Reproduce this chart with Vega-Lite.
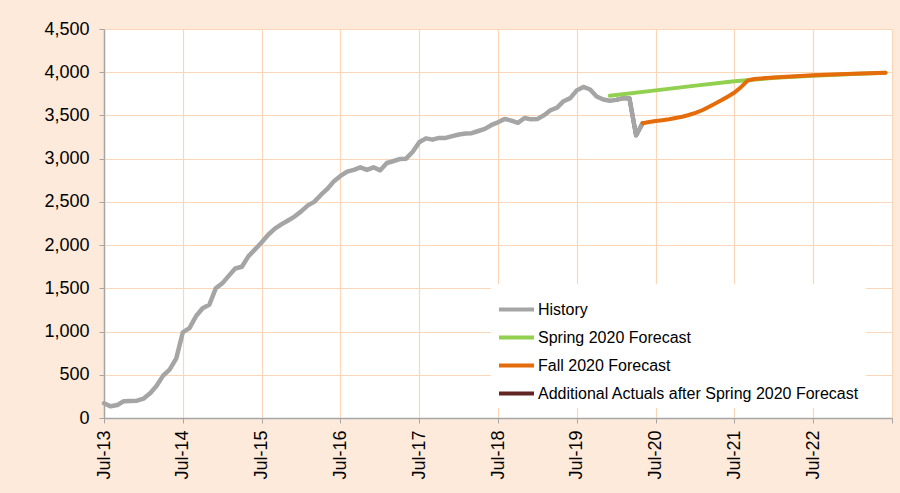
{
  "$schema": "https://vega.github.io/schema/vega-lite/v6.json",
  "width": 788,
  "height": 389,
  "autosize": {"type": "none"},
  "padding": {"left": 104, "top": 29, "right": 8, "bottom": 75},
  "background": "#FDEADA",
  "config": {
    "view": {"fill": "#FFFFFF", "stroke": null},
    "font": "Liberation Sans",
    "axis": {
      "gridColor": "#FBD7B8",
      "gridWidth": 1.2,
      "domainColor": "#A6A6A6",
      "domainWidth": 1.5,
      "tickColor": "#A6A6A6",
      "tickSize": 5,
      "labelColor": "#000000",
      "labelFont": "Liberation Sans",
      "title": null
    }
  },
  "data": {
    "values": [
      {"series": "History", "date": "2013-07-01", "value": 170},
      {"series": "History", "date": "2013-08-01", "value": 135},
      {"series": "History", "date": "2013-09-01", "value": 150},
      {"series": "History", "date": "2013-10-01", "value": 195},
      {"series": "History", "date": "2013-11-01", "value": 197},
      {"series": "History", "date": "2013-12-01", "value": 200},
      {"series": "History", "date": "2014-01-01", "value": 225},
      {"series": "History", "date": "2014-02-01", "value": 290},
      {"series": "History", "date": "2014-03-01", "value": 370},
      {"series": "History", "date": "2014-04-01", "value": 490},
      {"series": "History", "date": "2014-05-01", "value": 560},
      {"series": "History", "date": "2014-06-01", "value": 690},
      {"series": "History", "date": "2014-07-01", "value": 990},
      {"series": "History", "date": "2014-08-01", "value": 1040},
      {"series": "History", "date": "2014-09-01", "value": 1180},
      {"series": "History", "date": "2014-10-01", "value": 1270},
      {"series": "History", "date": "2014-11-01", "value": 1310},
      {"series": "History", "date": "2014-12-01", "value": 1500},
      {"series": "History", "date": "2015-01-01", "value": 1560},
      {"series": "History", "date": "2015-02-01", "value": 1650},
      {"series": "History", "date": "2015-03-01", "value": 1730},
      {"series": "History", "date": "2015-04-01", "value": 1750},
      {"series": "History", "date": "2015-05-01", "value": 1870},
      {"series": "History", "date": "2015-06-01", "value": 1950},
      {"series": "History", "date": "2015-07-01", "value": 2030},
      {"series": "History", "date": "2015-08-01", "value": 2120},
      {"series": "History", "date": "2015-09-01", "value": 2190},
      {"series": "History", "date": "2015-10-01", "value": 2240},
      {"series": "History", "date": "2015-11-01", "value": 2285},
      {"series": "History", "date": "2015-12-01", "value": 2330},
      {"series": "History", "date": "2016-01-01", "value": 2390},
      {"series": "History", "date": "2016-02-01", "value": 2460},
      {"series": "History", "date": "2016-03-01", "value": 2500},
      {"series": "History", "date": "2016-04-01", "value": 2580},
      {"series": "History", "date": "2016-05-01", "value": 2650},
      {"series": "History", "date": "2016-06-01", "value": 2740},
      {"series": "History", "date": "2016-07-01", "value": 2800},
      {"series": "History", "date": "2016-08-01", "value": 2850},
      {"series": "History", "date": "2016-09-01", "value": 2870},
      {"series": "History", "date": "2016-10-01", "value": 2900},
      {"series": "History", "date": "2016-11-01", "value": 2870},
      {"series": "History", "date": "2016-12-01", "value": 2900},
      {"series": "History", "date": "2017-01-01", "value": 2865},
      {"series": "History", "date": "2017-02-01", "value": 2950},
      {"series": "History", "date": "2017-03-01", "value": 2970},
      {"series": "History", "date": "2017-04-01", "value": 2995},
      {"series": "History", "date": "2017-05-01", "value": 3000},
      {"series": "History", "date": "2017-06-01", "value": 3080},
      {"series": "History", "date": "2017-07-01", "value": 3190},
      {"series": "History", "date": "2017-08-01", "value": 3235},
      {"series": "History", "date": "2017-09-01", "value": 3220},
      {"series": "History", "date": "2017-10-01", "value": 3240},
      {"series": "History", "date": "2017-11-01", "value": 3240},
      {"series": "History", "date": "2017-12-01", "value": 3260},
      {"series": "History", "date": "2018-01-01", "value": 3280},
      {"series": "History", "date": "2018-02-01", "value": 3290},
      {"series": "History", "date": "2018-03-01", "value": 3295},
      {"series": "History", "date": "2018-04-01", "value": 3320},
      {"series": "History", "date": "2018-05-01", "value": 3345},
      {"series": "History", "date": "2018-06-01", "value": 3390},
      {"series": "History", "date": "2018-07-01", "value": 3420},
      {"series": "History", "date": "2018-08-01", "value": 3460},
      {"series": "History", "date": "2018-09-01", "value": 3440},
      {"series": "History", "date": "2018-10-01", "value": 3415},
      {"series": "History", "date": "2018-11-01", "value": 3470},
      {"series": "History", "date": "2018-12-01", "value": 3455},
      {"series": "History", "date": "2019-01-01", "value": 3460},
      {"series": "History", "date": "2019-02-01", "value": 3505},
      {"series": "History", "date": "2019-03-01", "value": 3560},
      {"series": "History", "date": "2019-04-01", "value": 3590},
      {"series": "History", "date": "2019-05-01", "value": 3665},
      {"series": "History", "date": "2019-06-01", "value": 3700},
      {"series": "History", "date": "2019-07-01", "value": 3790},
      {"series": "History", "date": "2019-08-01", "value": 3830},
      {"series": "History", "date": "2019-09-01", "value": 3800},
      {"series": "History", "date": "2019-10-01", "value": 3720},
      {"series": "History", "date": "2019-11-01", "value": 3685},
      {"series": "History", "date": "2019-12-01", "value": 3670},
      {"series": "History", "date": "2020-01-01", "value": 3680},
      {"series": "History", "date": "2020-02-01", "value": 3700},
      {"series": "History", "date": "2020-03-01", "value": 3700},
      {"series": "History", "date": "2020-04-01", "value": 3270},
      {"series": "History", "date": "2020-05-01", "value": 3410},
      {"series": "Additional Actuals after Spring 2020 Forecast", "date": "2020-01-01", "value": 3680},
      {"series": "Additional Actuals after Spring 2020 Forecast", "date": "2020-02-01", "value": 3700},
      {"series": "Additional Actuals after Spring 2020 Forecast", "date": "2020-03-01", "value": 3700},
      {"series": "Additional Actuals after Spring 2020 Forecast", "date": "2020-04-01", "value": 3270},
      {"series": "Additional Actuals after Spring 2020 Forecast", "date": "2020-05-01", "value": 3410},
      {"series": "Spring 2020 Forecast", "date": "2019-12-01", "value": 3728},
      {"series": "Spring 2020 Forecast", "date": "2020-07-01", "value": 3790},
      {"series": "Spring 2020 Forecast", "date": "2021-01-01", "value": 3845},
      {"series": "Spring 2020 Forecast", "date": "2021-07-01", "value": 3895},
      {"series": "Spring 2020 Forecast", "date": "2022-01-01", "value": 3935},
      {"series": "Spring 2020 Forecast", "date": "2022-07-01", "value": 3960},
      {"series": "Spring 2020 Forecast", "date": "2023-01-01", "value": 3980},
      {"series": "Spring 2020 Forecast", "date": "2023-06-01", "value": 3993},
      {"series": "Fall 2020 Forecast", "date": "2020-05-01", "value": 3410},
      {"series": "Fall 2020 Forecast", "date": "2020-06-01", "value": 3425},
      {"series": "Fall 2020 Forecast", "date": "2020-07-01", "value": 3435},
      {"series": "Fall 2020 Forecast", "date": "2020-08-01", "value": 3445},
      {"series": "Fall 2020 Forecast", "date": "2020-09-01", "value": 3455},
      {"series": "Fall 2020 Forecast", "date": "2020-10-01", "value": 3470},
      {"series": "Fall 2020 Forecast", "date": "2020-11-01", "value": 3485},
      {"series": "Fall 2020 Forecast", "date": "2020-12-01", "value": 3505},
      {"series": "Fall 2020 Forecast", "date": "2021-01-01", "value": 3530},
      {"series": "Fall 2020 Forecast", "date": "2021-02-01", "value": 3560},
      {"series": "Fall 2020 Forecast", "date": "2021-03-01", "value": 3595},
      {"series": "Fall 2020 Forecast", "date": "2021-04-01", "value": 3635},
      {"series": "Fall 2020 Forecast", "date": "2021-05-01", "value": 3675},
      {"series": "Fall 2020 Forecast", "date": "2021-06-01", "value": 3720},
      {"series": "Fall 2020 Forecast", "date": "2021-07-01", "value": 3765},
      {"series": "Fall 2020 Forecast", "date": "2021-08-01", "value": 3830},
      {"series": "Fall 2020 Forecast", "date": "2021-09-01", "value": 3905},
      {"series": "Fall 2020 Forecast", "date": "2021-10-01", "value": 3922},
      {"series": "Fall 2020 Forecast", "date": "2022-01-01", "value": 3940},
      {"series": "Fall 2020 Forecast", "date": "2022-07-01", "value": 3965},
      {"series": "Fall 2020 Forecast", "date": "2023-01-01", "value": 3982},
      {"series": "Fall 2020 Forecast", "date": "2023-06-01", "value": 3995}
    ]
  },
  "encoding": {
    "x": {
      "field": "date",
      "type": "temporal",
      "scale": {"type": "utc", "domain": [{"year": 2013, "month": 7, "date": 1, "utc": true}, {"year": 2023, "month": 7, "date": 1, "utc": true}]},
      "axis": {
        "values": [
          {"year": 2013, "month": 7, "date": 1, "utc": true},
          {"year": 2014, "month": 7, "date": 1, "utc": true},
          {"year": 2015, "month": 7, "date": 1, "utc": true},
          {"year": 2016, "month": 7, "date": 1, "utc": true},
          {"year": 2017, "month": 7, "date": 1, "utc": true},
          {"year": 2018, "month": 7, "date": 1, "utc": true},
          {"year": 2019, "month": 7, "date": 1, "utc": true},
          {"year": 2020, "month": 7, "date": 1, "utc": true},
          {"year": 2021, "month": 7, "date": 1, "utc": true},
          {"year": 2022, "month": 7, "date": 1, "utc": true},
          {"year": 2023, "month": 7, "date": 1, "utc": true}
        ],
        "labelExpr": "utcyear(datum.value) > 2022 ? '' : utcFormat(datum.value, '%b-%y')",
        "labelAngle": -90,
        "labelFontSize": 18,
        "labelPadding": 7,
        "grid": true,
        "labelOverlap": false,
        "labelBound": false,
        "labelFlush": false
      }
    },
    "y": {
      "field": "value",
      "type": "quantitative",
      "scale": {"domain": [0, 4500], "nice": false},
      "axis": {
        "values": [0, 500, 1000, 1500, 2000, 2500, 3000, 3500, 4000, 4500],
        "format": ",.0f",
        "labelFontSize": 18,
        "labelPadding": 10,
        "grid": true
      }
    },
    "color": {
      "field": "series",
      "type": "nominal",
      "scale": {
        "domain": ["History", "Spring 2020 Forecast", "Fall 2020 Forecast", "Additional Actuals after Spring 2020 Forecast"],
        "range": ["#A5A5A5", "#92D050", "#E46C0A", "#632523"]
      },
      "legend": {
        "title": null,
        "orient": "none",
        "legendX": 387,
        "legendY": 255,
        "direction": "vertical",
        "fillColor": "#FFFFFF",
        "padding": 6,
        "symbolType": "stroke",
        "symbolSize": 1225,
        "symbolStrokeWidth": 4,
        "labelFontSize": 16,
        "labelFont": "Liberation Sans",
        "labelColor": "#000000",
        "labelOffset": 2,
        "labelLimit": 0,
        "rowPadding": -7
      }
    }
  },
  "layer": [
    {
      "transform": [{"filter": "datum.series === 'Additional Actuals after Spring 2020 Forecast'"}],
      "mark": {"type": "line", "strokeWidth": 4, "strokeCap": "round", "strokeJoin": "round"}
    },
    {
      "transform": [{"filter": "datum.series === 'History'"}],
      "mark": {"type": "line", "strokeWidth": 4.5, "strokeCap": "round", "strokeJoin": "round"}
    },
    {
      "transform": [{"filter": "datum.series === 'Spring 2020 Forecast'"}],
      "mark": {"type": "line", "strokeWidth": 4, "strokeCap": "round", "strokeJoin": "round"}
    },
    {
      "transform": [{"filter": "datum.series === 'Fall 2020 Forecast'"}],
      "mark": {"type": "line", "strokeWidth": 4, "strokeCap": "round", "strokeJoin": "round"}
    }
  ]
}
